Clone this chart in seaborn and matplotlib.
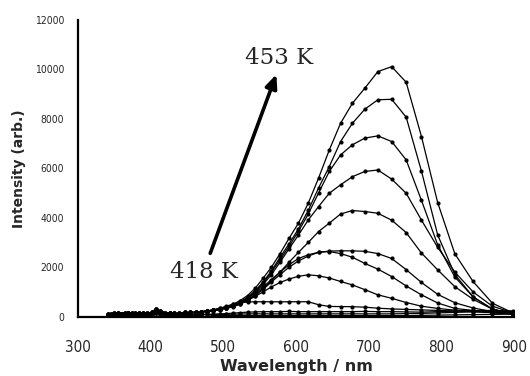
import numpy as np
import pandas as pd
import matplotlib
matplotlib.use("Agg")
import matplotlib.pyplot as plt
import seaborn as sns

# --- data ---
wavelength = [341.6, 345.9, 350.3, 354.8, 359.4, 364.2, 369.0, 374.1, 379.2, 384.5,
              389.9, 395.5, 401.3, 407.2, 413.3, 419.6, 426.1, 432.8, 439.7, 446.8,
              454.2, 461.8, 469.7, 477.8,
              486.3, 495.0, 504.1, 513.5, 523.2, 533.3, 543.9, 554.8, 566.2, 578.1,
              590.5, 603.4, 616.9, 631.0, 645.8, 661.3, 677.6, 694.7, 712.6, 731.6,
              751.5, 772.6, 794.9, 818.5, 843.5, 870.2, 898.6]

# noisy UV part (342-478 nm), three groups of curves
base_hi = [90, 110, 130, 100, 120, 150, 130, 160, 140, 120, 110, 140, 170, 300, 220, 160,
           130, 110, 140, 170, 150, 180, 200, 230]
base_mid = [60, 80, 120, 140, 90, 110, 160, 120, 100, 140, 130, 100, 150, 250, 180, 120,
            150, 130, 100, 130, 170, 160, 190, 210]
base_lo = [40, 60, 50, 70, 60, 80, 60, 50, 70, 60, 50, 60, 80, 150, 90, 70,
           60, 50, 60, 70, 60, 70, 80, 90]

# 486-899 nm
curve_a = [280, 330, 400, 500, 650, 850, 1150, 1550, 2000, 2550, 3170, 3780, 4590, 5600,
           6740, 7820, 8630, 9240, 9910, 10110, 9480, 7280, 4610, 2540, 1420, 540, 150]
curve_b = [270, 320, 380, 470, 600, 780, 1050, 1400, 1850, 2400, 2950, 3550, 4300, 5200,
           6070, 7080, 7820, 8390, 8770, 8790, 8070, 5880, 3300, 1700, 800, 300, 100]
curve_c = [260, 310, 370, 450, 580, 750, 1000, 1350, 1800, 2300, 2850, 3450, 4150, 5000,
           5870, 6540, 6950, 7220, 7310, 7080, 6340, 4700, 2900, 1600, 800, 300, 100]
curve_d = [250, 300, 360, 440, 560, 730, 980, 1300, 1700, 2200, 2750, 3300, 3910, 4450,
           4990, 5330, 5660, 5870, 5930, 5560, 4990, 3900, 2800, 1800, 1000, 420, 150]
curve_e = [250, 290, 350, 420, 530, 680, 880, 1150, 1450, 1800, 2200, 2600, 3000, 3440,
           3780, 4150, 4290, 4250, 4180, 3900, 3400, 2570, 1890, 1210, 700, 300, 120]
curve_f = [240, 280, 330, 400, 500, 650, 850, 1100, 1400, 1700, 2000, 2250, 2450, 2600,
           2650, 2660, 2660, 2640, 2550, 2350, 1900, 1380, 900, 560, 350, 200, 130]
curve_g = [240, 280, 340, 420, 550, 720, 950, 1200, 1500, 1800, 2100, 2350, 2500, 2600,
           2630, 2550, 2400, 2150, 1920, 1620, 1240, 880, 550, 330, 250, 150, 100]
curve_h = [250, 300, 350, 420, 520, 650, 820, 1000, 1200, 1380, 1520, 1630, 1690, 1650,
           1560, 1420, 1280, 1090, 880, 740, 570, 420, 330, 260, 210, 160, 110]
curve_i = [260, 330, 420, 500, 560, 590, 600, 600, 600, 595, 600, 600, 600, 480,
           410, 405, 400, 380, 340, 310, 290, 270, 250, 230, 200, 170, 150]
curve_j = [100, 110, 120, 140, 160, 180, 190, 200, 200, 200, 210, 200, 200, 200,
           200, 200, 200, 210, 200, 200, 190, 180, 200, 220, 240, 250, 230]
curve_k = [70, 80, 90, 100, 100, 110, 110, 110, 110, 110, 110, 110, 110, 110,
           110, 110, 110, 110, 110, 110, 120, 130, 150, 170, 190, 200, 200]
curve_l = [40, 40, 40, 40, 40, 40, 40, 40, 40, 40, 40, 40, 40, 40,
           40, 40, 40, 40, 40, 40, 40, 50, 60, 70, 80, 90, 100]

spectra = {
    "a": base_hi + curve_a, "b": base_hi + curve_b, "c": base_hi + curve_c,
    "d": base_hi + curve_d, "e": base_mid + curve_e, "f": base_mid + curve_f,
    "g": base_mid + curve_g, "h": base_mid + curve_h, "i": base_mid + curve_i,
    "j": base_lo + curve_j, "k": base_lo + curve_k, "l": base_lo + curve_l,
}

y_ticks = [0, 2000, 4000, 6000, 8000, 10000, 12000]
x_ticks = [300, 400, 500, 600, 700, 800, 900]

sns.set_style("white")

fig = plt.figure(figsize=(5.3, 3.76), dpi=100)
ax = fig.add_axes([0.147, 0.158, 0.823, 0.789])

for name, vals in spectra.items():
    sns.lineplot(x=wavelength, y=vals, ax=ax, color="black", linewidth=0.9,
                 marker="o", markersize=3, markeredgewidth=0, legend=False)

ax.set_xlim(300, 900)
ax.set_ylim(0, 12000)
ax.set_xticks(x_ticks)
ax.set_yticks(y_ticks)
ax.set_xticklabels([str(t) for t in x_ticks], fontsize=11, fontstretch="condensed")
ax.set_yticklabels([str(t) for t in y_ticks], fontsize=7.5, fontstretch="condensed")
ax.tick_params(axis="both", length=0)
ax.tick_params(axis="x", pad=17)
ax.tick_params(axis="y", pad=10)

sns.despine(ax=ax)
for side in ["left", "bottom"]:
    ax.spines[side].set_color("black")
    ax.spines[side].set_linewidth(1.6)

ax.set_xlabel("Wavelength / nm", fontsize=11.5, fontweight="bold", labelpad=3)
ax.set_ylabel("Intensity (arb.)", fontsize=10, fontweight="bold", labelpad=6)

# temperature arrow
ax.annotate("", xy=(573, 9800), xytext=(482, 2560),
            arrowprops=dict(arrowstyle="-|>,head_length=0.8,head_width=0.35",
                            color="black", lw=2.6, shrinkA=0, shrinkB=0))
ax.text(577, 10450, "453 K", fontsize=16.5, family="DejaVu Serif",
        ha="center", va="center")
ax.text(473, 1800, "418 K", fontsize=16.5, family="DejaVu Serif",
        ha="center", va="center")

fig.savefig("out.png", dpi=100)
